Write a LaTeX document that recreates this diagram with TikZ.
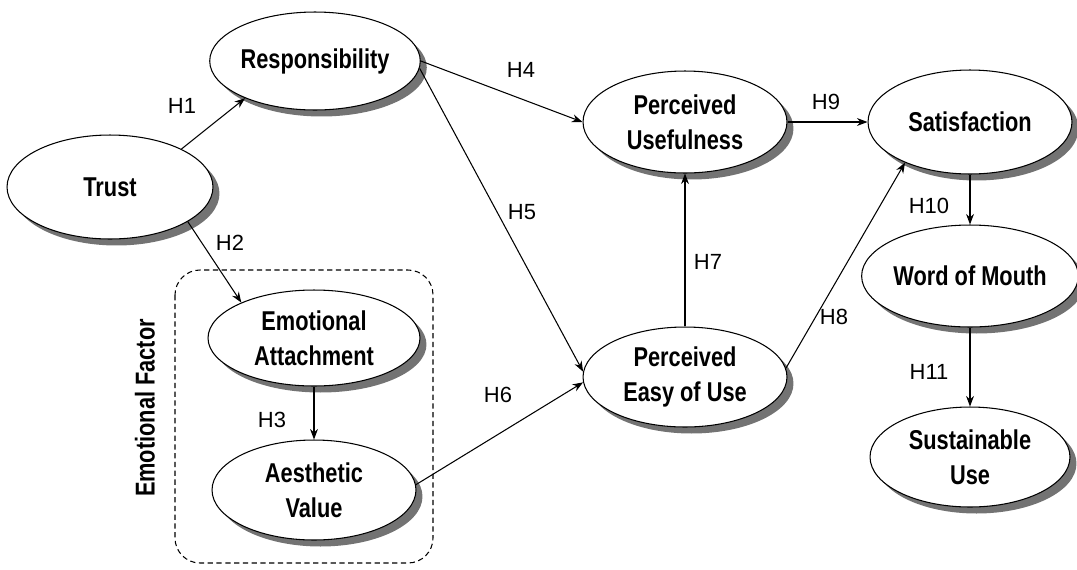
\documentclass[tikz,border=0pt]{standalone}
\usepackage{fontspec}
\setmainfont{Liberation Sans}
\newfontfamily\nodefont[FakeStretch=0.8]{Liberation Sans}
\usetikzlibrary{shapes.geometric,shadows,arrows.meta}
\begin{document}
\begin{tikzpicture}[x=0.02cm,y=-0.02cm,
  lv/.style={ellipse, draw, line width=0.6pt, fill=white, inner sep=0pt,
    minimum width=4.08cm, minimum height=2.04cm, align=center,
    font=\nodefont\bfseries\fontsize{15.5}{20}\selectfont,
    drop shadow={shadow xshift=0.13cm, shadow yshift=-0.13cm, fill=black!55, opacity=1}},
  hyp/.style={-{Stealth[length=6pt,width=4.5pt]}, line width=0.6pt},
  lab/.style={font=\fontsize{12.5}{14}\selectfont, inner sep=0pt},
  grp/.style={draw, dashed, dash pattern=on 3pt off 2pt, line width=0.6pt, rounded corners=0.5cm}]
\useasboundingbox (0,0) rectangle (1077,569);

% group box
\draw[grp] (175,270) rectangle (433,563);
\node[font=\nodefont\bfseries\fontsize{15.5}{20}\selectfont, rotate=90] (ef) at (145,408) {Emotional Factor};

% latent variables
\node[lv, minimum width=4.12cm, minimum height=2.08cm] (trust) at (110,187) {Trust};
\node[lv, minimum height=1.96cm] (resp) at (315,61) {Responsibility};
\node[lv, minimum width=4.24cm, minimum height=1.92cm] (ea) at (314,338) {Emotional\\Attachment};
\node[lv, minimum height=2.0cm] (av) at (314,490) {Aesthetic\\Value};
\node[lv] (pu) at (685,122) {Perceived\\Usefulness};
\node[lv, minimum height=2.0cm] (peou) at (685,377) {Perceived\\Easy of Use};
\node[lv, minimum height=2.08cm] (sat) at (970,122) {Satisfaction};
\node[lv, minimum width=4.0cm] (wom) at (970,276) {Word of Mouth};
\node[lv, minimum width=4.0cm, minimum height=2.0cm] (su) at (970,457) {Sustainable\\Use};

% hypotheses
\draw[hyp] (trust.28) -- (resp.208);
\draw[hyp] (trust.-24) -- (ea.154);
\draw[hyp] (ea.south) -- (av.north);
\draw[hyp] (resp.east) -- (pu.west);
\draw[hyp] (resp.-4) -- (peou.177);
\draw[hyp] (av.3) -- (peou.183);
\draw[hyp] (peou.north) -- (pu.south);
\draw[hyp] (peou.5) -- (sat.212);
\draw[hyp] (pu.east) -- (sat.west);
\draw[hyp] (sat.south) -- (wom.north);
\draw[hyp] (wom.south) -- (su.north);

% labels
\node[lab] (h1) at (182,106) {H1};
\node[lab] (h2) at (230,243) {H2};
\node[lab] (h3) at (272,420) {H3};
\node[lab] (h4) at (521,70) {H4};
\node[lab] (h5) at (522,212) {H5};
\node[lab] (h6) at (498,395) {H6};
\node[lab] (h7) at (708,262) {H7};
\node[lab] (h8) at (834,317) {H8};
\node[lab] (h9) at (826,102) {H9};
\node[lab] (h10) at (929,206) {H10};
\node[lab] (h11) at (929,372) {H11};
\end{tikzpicture}
\end{document}
